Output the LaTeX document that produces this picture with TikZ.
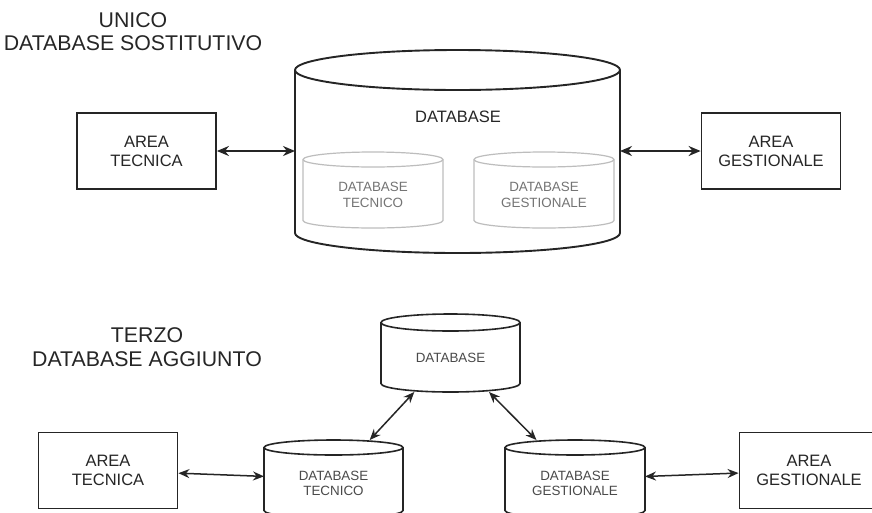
\documentclass[tikz,border=0pt]{standalone}
\usepackage{fontspec}
\setmainfont{Liberation Sans}
\usetikzlibrary{calc,arrows.meta}

\definecolor{inkline}{HTML}{252525}
\definecolor{inktext}{HTML}{262626}
\definecolor{paleline}{HTML}{BDBDBD}
\definecolor{paletext}{HTML}{747474}
\definecolor{smalltext}{HTML}{4A4A4A}

% cylinder: name, centre x, centre y, width, height, cap radius, style
\newcommand\dbcyl[7]{%
  \node[minimum width=#4pt, minimum height=#5pt, inner sep=0pt, outer sep=0pt] (#1) at (#2,#3) {};
  \draw[#7] ($(#1.north east)+(0,-#6)$)
      arc[start angle=0, end angle=180, x radius=#4/2, y radius=#6]
      -- ($(#1.south west)+(0,#6)$)
      arc[start angle=180, end angle=360, x radius=#4/2, y radius=#6]
      -- cycle;
  \draw[#7, fill=none] ($(#1.north west)+(0,-#6)$)
      arc[start angle=180, end angle=360, x radius=#4/2, y radius=#6];
}

\tikzset{
  areabox/.style={draw=inkline, line width=1.8pt, fill=white, minimum width=139pt,
    minimum height=76pt, inner sep=0pt, align=center, text=inktext,
    font=\fontsize{16.5}{19}\selectfont},
  heading/.style={align=center, text=inktext, font=\fontsize{21.3}{23.5}\selectfont},
  bigcyl/.style={draw=inkline, line width=1.9pt, fill=white},
  smallcyl/.style={draw=inkline, line width=1.6pt, fill=white},
  innercyl/.style={draw=paleline, line width=1.2pt, fill=white},
  bigtext/.style={text=inktext, font=\fontsize{16.5}{19}\selectfont},
  smalltxt/.style={align=center, text=smalltext, font=\fontsize{13.4}{15.5}\selectfont},
  innertxt/.style={align=center, text=paletext, font=\fontsize{13.4}{16}\selectfont},
  bothways/.style={line width=1.8pt, draw=inkline,
    {Stealth[length=12pt,width=10pt]}-{Stealth[length=12pt,width=10pt]}},
  boththin/.style={line width=1.5pt, draw=inkline,
    {Stealth[length=11pt,width=9pt]}-{Stealth[length=11pt,width=9pt]}},
}

\begin{document}
\begin{tikzpicture}[x=1pt,y=1pt]
\useasboundingbox (0,0) rectangle (872,-512);
\clip (0,0) rectangle (872,-512);
\fill[white] (0,0) rectangle (872,-512);

% ---------- single replacing database ----------
\node[heading] (headA) at (133,-31.5) {UNICO\\DATABASE SOSTITUTIVO};

\dbcyl{dbbig}{457.5}{-151.5}{325}{203}{20}{bigcyl}
\node[bigtext] (dbbigtxt) at (458,-117) {DATABASE};

\dbcyl{dbintec}{373}{-190}{140}{76}{7.5}{innercyl}
\node[innertxt] (dbintectxt) at (373,-195) {DATABASE\\TECNICO};
\dbcyl{dbinges}{544}{-190}{140}{76}{7.5}{innercyl}
\node[innertxt] (dbingestxt) at (544,-195) {DATABASE\\GESTIONALE};

\node[areabox] (tecA) at (146.5,-151) {AREA\\TECNICA};
\node[areabox] (gesA) at (771,-151) {AREA\\GESTIONALE};

\draw[bothways] (tecA) -- (tecA -| dbbig.west);
\draw[bothways] (gesA -| dbbig.east) -- (gesA);

% ---------- third added database ----------
\node[heading] (headB) at (147,-347) {TERZO\\DATABASE AGGIUNTO};

\dbcyl{dbtop}{450.5}{-353}{139}{78}{8.5}{smallcyl}
\node[smalltxt] (dbtoptxt) at (450.5,-358) {DATABASE};

\dbcyl{dbtec}{333.5}{-479}{139}{78}{7.5}{smallcyl}
\node[smalltxt] (dbtectxt) at (333.5,-483.5) {DATABASE\\TECNICO};
\dbcyl{dbges}{575}{-479}{140}{78}{7.5}{smallcyl}
\node[smalltxt] (dbgestxt) at (575,-483.5) {DATABASE\\GESTIONALE};

\node[areabox] (tecB) at (108,-470.5) {AREA\\TECNICA};
\node[areabox] (gesB) at (809,-470.5) {AREA\\GESTIONALE};

\draw[boththin] (dbtop) -- (dbtec);
\draw[boththin] (dbtop) -- (dbges);
\draw[boththin] (tecB) -- (dbtec);
\draw[boththin] (dbges) -- (gesB);
\end{tikzpicture}
\end{document}
